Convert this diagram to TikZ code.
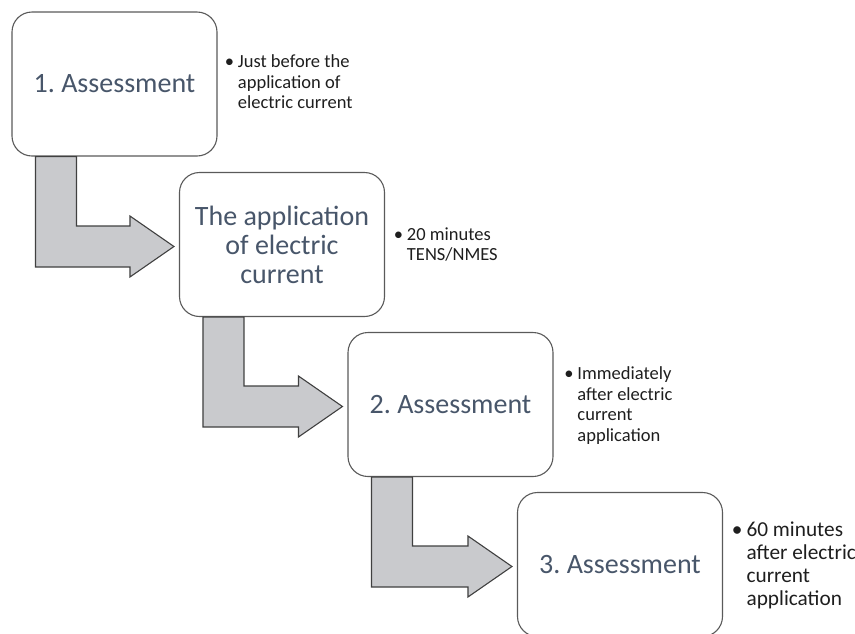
\documentclass[tikz,border=0pt]{standalone}
\usepackage{fontspec}
\setmainfont{Carlito}
\usetikzlibrary{calc}
\frenchspacing
\definecolor{slate}{RGB}{72,86,106}
\definecolor{arrowfill}{RGB}{201,202,205}
\definecolor{arrowline}{RGB}{64,64,64}
\definecolor{boxline}{RGB}{90,90,90}
\definecolor{notetext}{RGB}{30,30,30}

% L-shaped block arrow from the bottom of one step box to the left side of the next
\newcommand\elbow[2]{%
  \draw[elbowarrow] let \p1=(#1.south west), \p2=(#2.west) in
    (\x1+24pt,\y1) -- (\x1+65pt,\y1) -- (\x1+65pt,\y2+18.5pt)
    -- (\x2-49pt,\y2+18.5pt) -- (\x2-49pt,\y2+28.5pt) -- (\x2-5pt,\y2-2pt)
    -- (\x2-49pt,\y2-32.5pt) -- (\x2-49pt,\y2-22.5pt) -- (\x1+24pt,\y2-22.5pt) -- cycle;}

\begin{document}
\begin{tikzpicture}[x=1pt,y=-1pt,
  stepbox/.style={draw=boxline, line width=1.1pt, fill=white, rounded corners=20pt,
    minimum width=205pt, minimum height=144pt, inner sep=0pt, align=center,
    text=slate, font=\fontsize{28}{29}\selectfont},
  note/.style={anchor=west, inner sep=0pt, text=notetext,
    font=\fontsize{18.5}{20.5}\selectfont},
  bignote/.style={note, font=\fontsize{21.3}{23}\selectfont},
  elbowarrow/.style={fill=arrowfill, draw=arrowline, line width=1.1pt, line join=miter}]
\useasboundingbox (0,0) rectangle (855,633);

% step boxes
\node[stepbox] (b1) at (114.5,84)    {1. Assessment};
\node[stepbox] (b2) at (282,244.5)   {The application\\of electric\\current};
\node[stepbox] (b3) at (450.5,404.5) {2. Assessment};
\node[stepbox] (b4) at (620,564.5)   {3. Assessment};

% arrows between steps
\elbow{b1}{b2}
\elbow{b2}{b3}
\elbow{b3}{b4}

% bullet notes beside each step
\node[note] (n1) at ($(b1.east)+(7,0)$)
  {\begin{tabular}{@{}l@{\hspace{4pt}}l@{}}\textbullet & Just before the\\ & application of\\ & electric current\end{tabular}};
\node[note] (n2) at ($(b2.east)+(8.5,2)$)
  {\begin{tabular}{@{}l@{\hspace{4pt}}l@{}}\textbullet & 20 minutes\\ & TENS/NMES\end{tabular}};
\node[note] (n3) at ($(b3.east)+(10.5,2)$)
  {\begin{tabular}{@{}l@{\hspace{4pt}}l@{}}\textbullet & Immediately\\ & after electric\\ & current\\ & application\end{tabular}};
\node[bignote] (n4) at ($(b4.east)+(8.7,2)$)
  {\begin{tabular}{@{}l@{\hspace{4pt}}l@{}}\textbullet & 60 minutes\\ & after electric\\ & current\\ & application\end{tabular}};
\end{tikzpicture}
\end{document}
